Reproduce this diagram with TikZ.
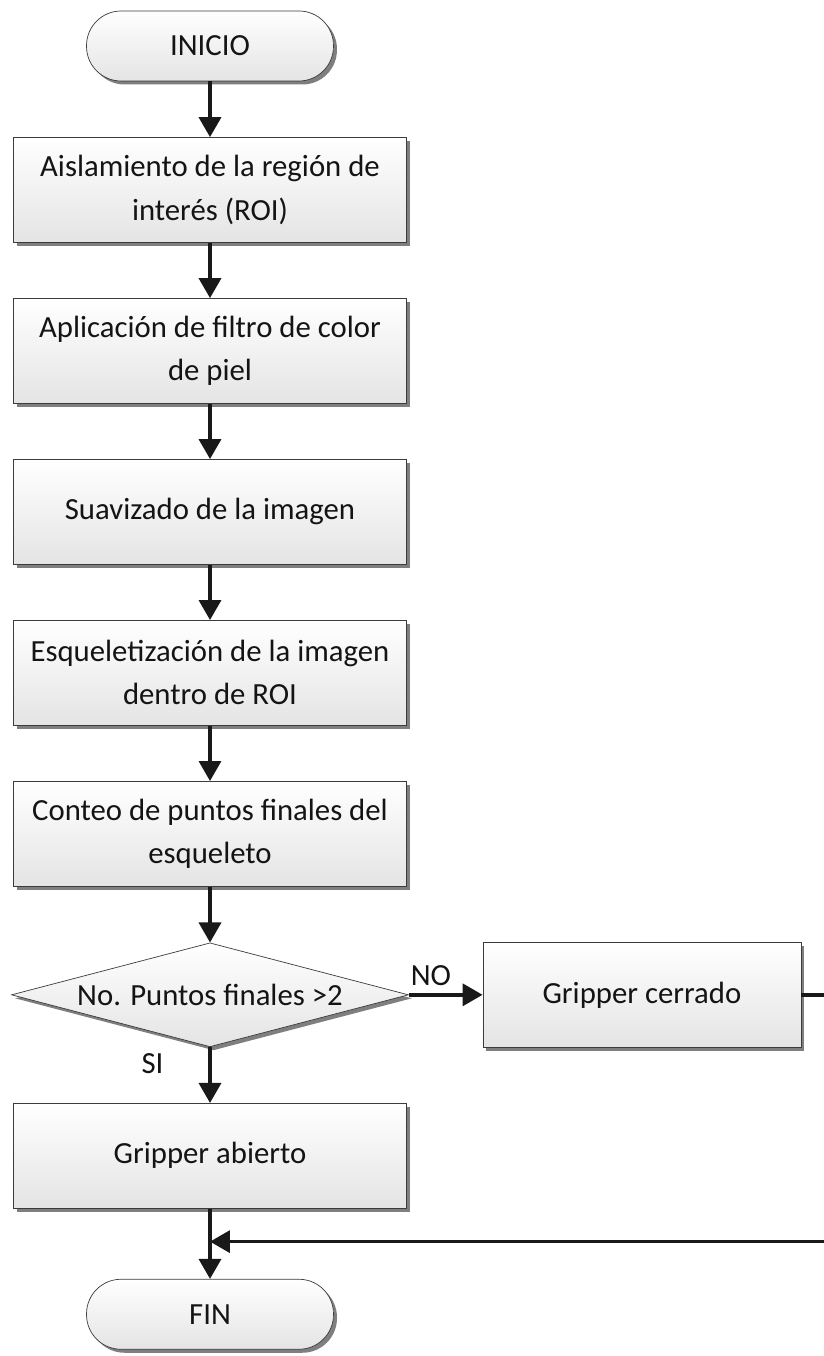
\documentclass[tikz,border=0pt]{standalone}
\usepackage{fontspec}
\setmainfont{Carlito}
\usetikzlibrary{arrows.meta, positioning, shapes.geometric, shadows}

\definecolor{boxline}{HTML}{3C3C3C}
\definecolor{boxshade}{HTML}{E4E4E4}
\definecolor{shadowgray}{HTML}{7F7F7F}

\begin{document}
\begin{tikzpicture}[
        x = 0.02cm, y = -0.02cm,
        node distance = 3.22cm, on grid,
        >= {Triangle[length = 0.4cm, width = 0.44cm]},
        every node/.style = {font = \fontsize{17.5}{24.5}\selectfont, text = black!92},
        base/.style = {draw = boxline, thin, top color = white, bottom color = boxshade,
            drop shadow = {shadow xshift = 0.07cm, shadow yshift = -0.07cm, fill = shadowgray, opacity = 1}},
        process/.style = {base, rectangle, align = center, minimum width = 7.86cm, minimum height = 2.1cm},
        terminal/.style = {base, rectangle, rounded corners = 0.69cm, minimum width = 4.94cm, minimum height = 1.4cm},
        decision/.style = {base, diamond, aspect = 3.8, inner sep = 0pt, minimum width = 7.94cm, minimum height = 2.08cm},
        flow/.style = {->, line width = 2pt, black!90}
    ]
    \fill[white] (0, 0) rectangle (823, 1356);
    \useasboundingbox (0, 0) rectangle (823, 1356);

    \node[terminal] (inicio) at (210, 46) {INICIO};
    \node[process] (roi) [below = 2.88cm of inicio] {Aislamiento de la región de\\interés (ROI)};
    \node[process] (filtro) [below = of roi] {Aplicación de filtro de color\\de piel};
    \node[process] (suave) [below = of filtro] {Suavizado de la imagen};
    \node[process] (esqueleto) [below = of suave] {Esqueletización de la imagen\\dentro de ROI};
    \node[process] (conteo) [below = of esqueleto] {Conteo de puntos finales del\\esqueleto};
    \node[decision] (puntos) [below = of conteo] {No. Puntos finales >2};
    \node[process, minimum width = 6.36cm] (cerrado) [right = 8.64cm of puntos] {Gripper cerrado};
    \node[process] (abierto) [below = of puntos] {Gripper abierto};
    \node[terminal] (fin) [below = 3.17cm of abierto] {FIN};
    \coordinate[below = 0.66cm of abierto.south] (union);

    \path[flow]
        (inicio) edge (roi)
        (roi) edge (filtro)
        (filtro) edge (suave)
        (suave) edge (esqueleto)
        (esqueleto) edge (conteo)
        (conteo) edge (puntos)
        (puntos) edge node [above = 1pt, pos = 0.3] {NO} (cerrado)
        (puntos) edge node [left = 0.78cm, pos = 0.3] {SI} (abierto)
        (abierto) edge (fin);
    \draw[flow] (cerrado.east) -- ++(0.52cm, 0) |- (union);
\end{tikzpicture}
\end{document}
